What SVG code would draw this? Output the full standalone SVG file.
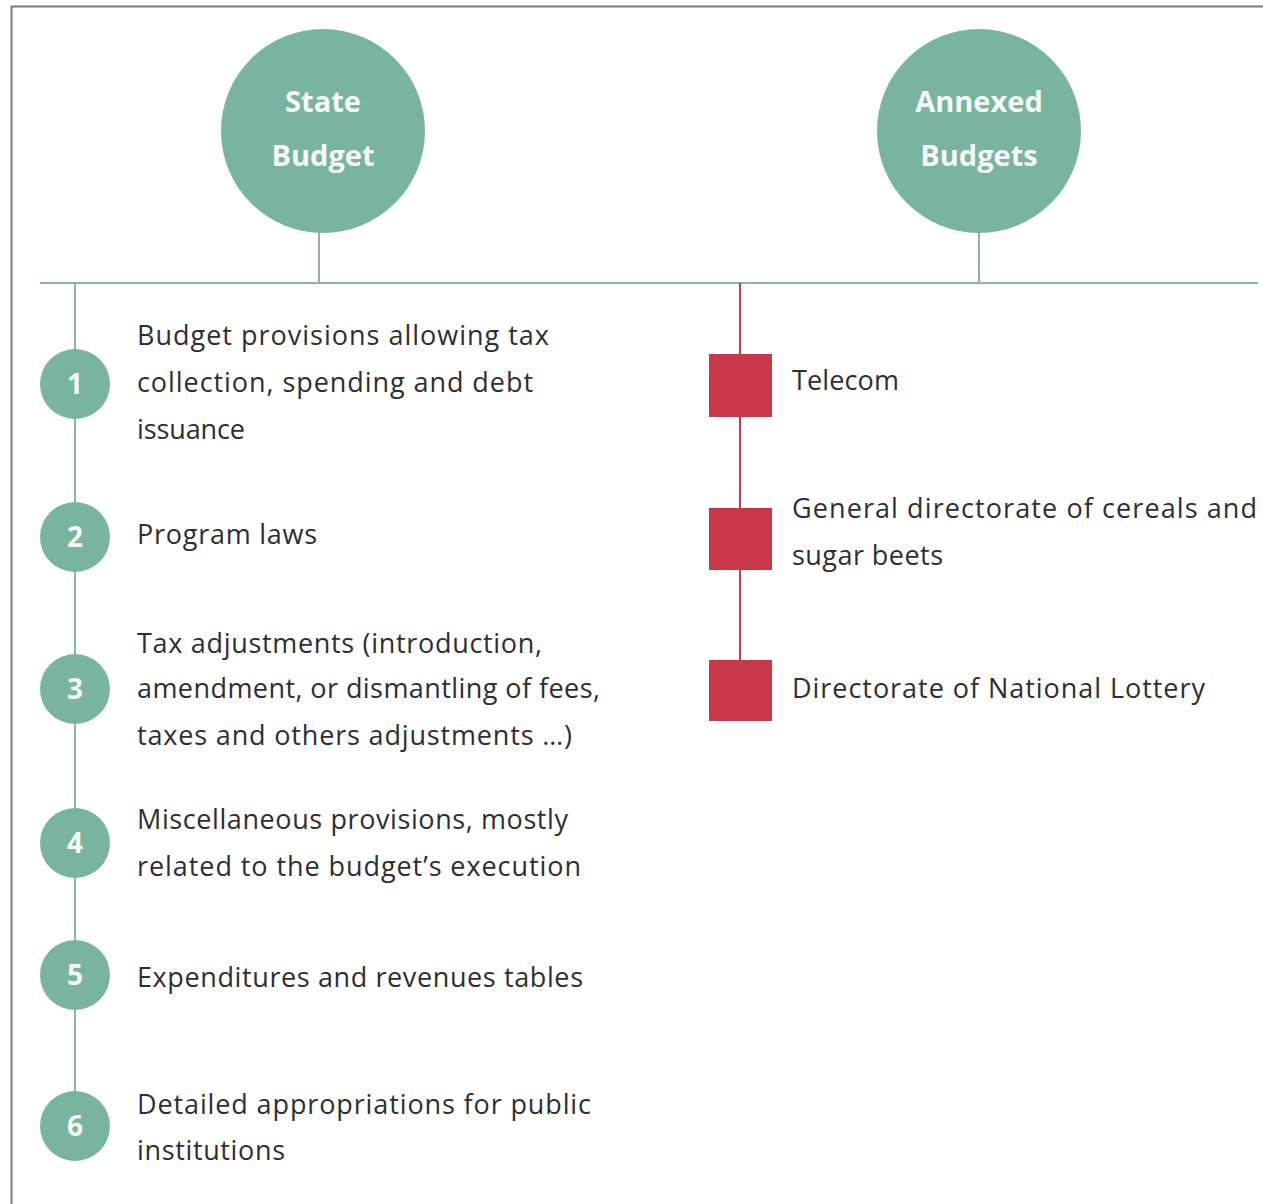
<svg xmlns="http://www.w3.org/2000/svg" width="1263" height="1204" viewBox="0 0 1263 1204">
<style>
.big{fill:#79b4a1}
.num{fill:#79b4a1}
.bt{font-family:"Open Sans","Noto Sans",sans-serif;font-weight:bold;font-size:29px;fill:#f4f8f6;text-anchor:middle}
.nt{font-family:"Open Sans","Noto Sans",sans-serif;font-weight:bold;font-size:28px;fill:#f4f8f6;text-anchor:middle}
.tx{font-family:"Open Sans","Noto Sans",sans-serif;font-size:27px;fill:#2e2e33}
.sq{fill:#c8374a}
.gl{stroke:#8fb3a6;stroke-width:2;fill:none}
.rl{stroke:#c8374a;stroke-width:2;fill:none}
</style>
<rect x="0" y="0" width="1263" height="1204" fill="#fff"/>
<path d="M11.5,1204 V6.5 H1263" stroke="#7a7a7a" stroke-width="2" fill="none"/>
<g id="connectors">
<line class="gl" x1="40" y1="283" x2="1258" y2="283"/>
<line class="gl" x1="319" y1="230" x2="319" y2="283"/>
<line class="gl" x1="979" y1="230" x2="979" y2="283"/>
<line class="gl" x1="75" y1="283" x2="75" y2="1125"/>
<line class="rl" x1="740" y1="283" x2="740" y2="690"/>
</g>
<g id="state-budget">
<circle class="big" cx="323" cy="131" r="102"/>
<text class="bt" x="323" y="112">State</text>
<text class="bt" x="323" y="166">Budget</text>
</g>
<g id="annexed-budgets">
<circle class="big" cx="979" cy="131" r="102"/>
<text class="bt" x="979" y="112">Annexed</text>
<text class="bt" x="979" y="166">Budgets</text>
</g>
<g id="item1">
<circle class="num" cx="75" cy="384" r="35"/>
<text class="nt" x="75" y="394">1</text>
<text class="tx" x="137" y="345" textLength="412" lengthAdjust="spacing">Budget provisions allowing tax</text>
<text class="tx" x="137" y="392" textLength="396" lengthAdjust="spacing">collection, spending and debt</text>
<text class="tx" x="137" y="439" textLength="108" lengthAdjust="spacing">issuance</text>
</g>
<g id="item2">
<circle class="num" cx="75" cy="537" r="35"/>
<text class="nt" x="75" y="547">2</text>
<text class="tx" x="137" y="544" textLength="180" lengthAdjust="spacing">Program laws</text>
</g>
<g id="item3">
<circle class="num" cx="75" cy="689" r="35"/>
<text class="nt" x="75" y="699">3</text>
<text class="tx" x="137" y="653" textLength="405" lengthAdjust="spacing">Tax adjustments (introduction,</text>
<text class="tx" x="137" y="698" textLength="463" lengthAdjust="spacing">amendment, or dismantling of fees,</text>
<text class="tx" x="137" y="745" textLength="435" lengthAdjust="spacing">taxes and others adjustments …)</text>
</g>
<g id="item4">
<circle class="num" cx="75" cy="843" r="35"/>
<text class="nt" x="75" y="853">4</text>
<text class="tx" x="137" y="829" textLength="431" lengthAdjust="spacing">Miscellaneous provisions, mostly</text>
<text class="tx" x="137" y="876" textLength="444" lengthAdjust="spacing">related to the budget’s execution</text>
</g>
<g id="item5">
<circle class="num" cx="75" cy="975" r="35"/>
<text class="nt" x="75" y="985">5</text>
<text class="tx" x="137" y="987" textLength="446" lengthAdjust="spacing">Expenditures and revenues tables</text>
</g>
<g id="item6">
<circle class="num" cx="75" cy="1126" r="35"/>
<text class="nt" x="75" y="1136">6</text>
<text class="tx" x="137" y="1114" textLength="454" lengthAdjust="spacing">Detailed appropriations for public</text>
<text class="tx" x="137" y="1160" textLength="148" lengthAdjust="spacing">institutions</text>
</g>
<g id="telecom">
<rect class="sq" x="709" y="354" width="63" height="63"/>
<text class="tx" x="792" y="390" textLength="107" lengthAdjust="spacing">Telecom</text>
</g>
<g id="cereals">
<rect class="sq" x="709" y="508" width="63" height="62"/>
<text class="tx" x="792" y="518" textLength="465" lengthAdjust="spacing">General directorate of cereals and</text>
<text class="tx" x="792" y="565" textLength="151" lengthAdjust="spacing">sugar beets</text>
</g>
<g id="lottery">
<rect class="sq" x="709" y="660" width="63" height="61"/>
<text class="tx" x="792" y="698" textLength="413" lengthAdjust="spacing">Directorate of National Lottery</text>
</g>
</svg>
